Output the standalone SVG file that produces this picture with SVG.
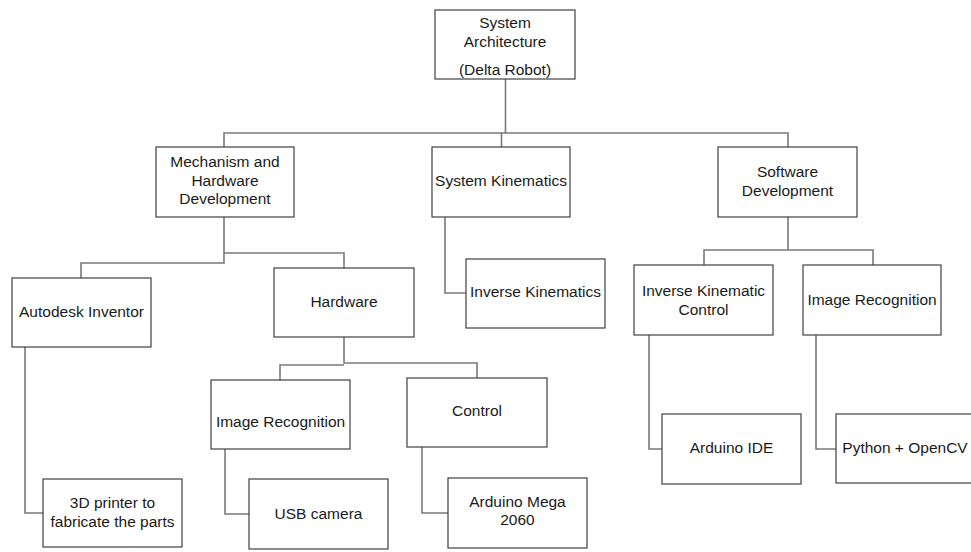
<svg xmlns="http://www.w3.org/2000/svg" width="971" height="552" viewBox="0 0 971 552">
<style>
.box{fill:#ffffff;stroke:#404040;stroke-width:1.2}
.con{fill:none;stroke:#7a7a7a;stroke-width:1.6}
text{font-family:"Liberation Sans",Arial,sans-serif;font-size:15.5px;fill:#1a1a1a;text-anchor:middle}
</style>
<rect width="971" height="552" fill="#ffffff"/>
<g id="connectors">
<path class="con" d="M505.5,79 V133 M224,147 V133 H788 V147 M501.5,133 V147"/>
<path class="con" d="M224,217 V263 H81 V278 M224,253 H344 V268"/>
<path class="con" d="M25,347 V513 H43"/>
<path class="con" d="M344,337 V363 H477 V378 M344,365 H280 V380"/>
<path class="con" d="M225,449 V514 H249"/>
<path class="con" d="M422,447 V513 H448"/>
<path class="con" d="M445,217 V293 H466"/>
<path class="con" d="M788,217 V250 H873 V265 M788,250 H704 V265"/>
<path class="con" d="M649,335 V449 H662"/>
<path class="con" d="M816,335 V449 H836"/>
</g>
<g id="root">
<rect class="box" x="435" y="10" width="140" height="69"/>
<text x="505" y="28">System</text>
<text x="505" y="47">Architecture</text>
<text x="505" y="75">(Delta Robot)</text>
</g>
<g id="mechanism">
<rect class="box" x="156" y="147" width="138" height="70"/>
<text x="225" y="167">Mechanism and</text>
<text x="225" y="186">Hardware</text>
<text x="225" y="204">Development</text>
</g>
<g id="kinematics">
<rect class="box" x="432" y="147" width="138" height="70"/>
<text x="501" y="186">System Kinematics</text>
</g>
<g id="software">
<rect class="box" x="718" y="147" width="139" height="70"/>
<text x="787.5" y="177">Software</text>
<text x="787.5" y="196">Development</text>
</g>
<g id="autodesk">
<rect class="box" x="12" y="278" width="139" height="69"/>
<text x="81.5" y="317">Autodesk Inventor</text>
</g>
<g id="hardware">
<rect class="box" x="274" y="268" width="140" height="69"/>
<text x="344" y="307">Hardware</text>
</g>
<g id="inverse-kinematics">
<rect class="box" x="466" y="259" width="139" height="69"/>
<text x="535.5" y="297">Inverse Kinematics</text>
</g>
<g id="ik-control">
<rect class="box" x="634" y="265" width="139" height="70"/>
<text x="703.5" y="296">Inverse Kinematic</text>
<text x="703.5" y="315">Control</text>
</g>
<g id="sw-image-recognition">
<rect class="box" x="803" y="265" width="138" height="70"/>
<text x="872" y="305">Image Recognition</text>
</g>
<g id="hw-image-recognition">
<rect class="box" x="211" y="380" width="139" height="69"/>
<text x="280.5" y="427">Image Recognition</text>
</g>
<g id="control">
<rect class="box" x="407" y="378" width="140" height="69"/>
<text x="477" y="416">Control</text>
</g>
<g id="printer">
<rect class="box" x="43" y="479" width="139" height="68"/>
<text x="112.5" y="508">3D printer to</text>
<text x="112.5" y="527">fabricate the parts</text>
</g>
<g id="usb-camera">
<rect class="box" x="249" y="479" width="139" height="70"/>
<text x="318.5" y="519">USB camera</text>
</g>
<g id="arduino-mega">
<rect class="box" x="448" y="478" width="139" height="70"/>
<text x="517.5" y="507">Arduino Mega</text>
<text x="517.5" y="525">2060</text>
</g>
<g id="arduino-ide">
<rect class="box" x="662" y="414" width="139" height="70"/>
<text x="731.5" y="453">Arduino IDE</text>
</g>
<g id="python-opencv">
<rect class="box" x="836" y="414" width="139" height="69"/>
<text x="905" y="453">Python + OpenCV</text>
</g>
</svg>
